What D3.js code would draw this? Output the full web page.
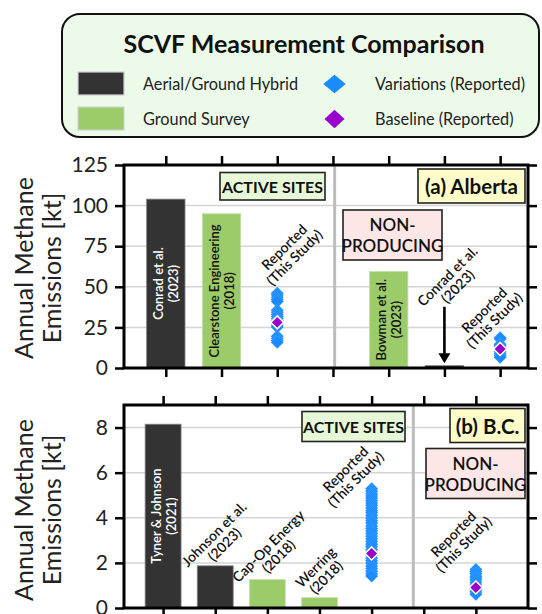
<!DOCTYPE html>
<html><head><meta charset="utf-8">
<script src="https://cdn.jsdelivr.net/npm/d3@7"></script>
<style>body{margin:0;background:#fff}svg{display:block;font-family:Lato,"Open Sans",sans-serif}</style>
</head><body><svg id="c" width="542" height="614"></svg>
<script>
// ---------------- data ----------------
const legendTitle = "SCVF Measurement Comparison";
const legendItems = ["Aerial/Ground Hybrid", "Ground Survey", "Variations (Reported)", "Baseline (Reported)"];
const positions = [1, 2, 3, 4, 5, 6, 7];
const yLabel = ["Annual Methane", "Emissions [kt]"];
const reportedLabel = ["Reported", "(This Study)"];

// (a) Alberta
const abYTicks = [0, 25, 50, 75, 100, 125];
const abBarPos = [1, 2, 5, 6];
const abBarValues = [104, 95, 59.5, 1.5];
const abBarTypes = ["hybrid", "ground", "ground", "hybrid"];
const abBarLabels = [["Conrad et al.", "(2023)"], ["Clearstone Engineering", "(2018)"], ["Bowman et al.", "(2023)"], ["Conrad et al.", "(2023)"]];
const abReportedPos = [3, 7];
const abVariationsActive = [46.1, 45.0, 43.6, 42.2, 40.9, 35.6, 34.4, 33.0, 31.7, 30.3, 29.1, 27.8, 26.4, 25.2, 19.5, 18.2, 17.0, 15.8];
const abVariationsNonProd = [18.7, 17.9, 14.6, 13.6, 12.6, 11.2, 10.0, 8.9, 7.7, 6.6];
const abBaseline = [28.1, 11.7];

// (b) B.C.
const bcYTicks = [0, 2, 4, 6, 8];
const bcBarPos = [1, 2, 3, 4];
const bcBarValues = [8.15, 1.87, 1.26, 0.46];
const bcBarTypes = ["hybrid", "hybrid", "ground", "ground"];
const bcBarLabels = [["Tyner & Johnson", "(2021)"], ["Johnson et al.", "(2023)"], ["Cap-Op Energy", "(2018)"], ["Werring", "(2018)"]];
const bcReportedPos = [5, 7];
const bcVariationsActive = [5.29, 5.18, 5.06, 4.97, 4.88, 4.76, 4.65, 4.55, 4.43, 4.31, 4.22, 4.10, 3.98, 3.87, 3.77, 3.64, 3.52, 3.41, 3.30, 3.18, 3.06, 2.95, 2.83, 2.71, 2.58, 2.47, 2.35, 2.22, 2.10, 1.98, 1.86, 1.75, 1.63, 1.52, 1.42];
const bcVariationsNonProd = [1.71, 1.62, 1.52, 1.41, 1.33, 1.24, 1.12, 1.01, 0.90, 0.80, 0.71, 0.61];
const bcBaseline = [2.42, 0.91];

// ---------------- styles / layout ----------------
const COL = {hybrid: "#333333", ground: "#9ccc69", blue: "#1a8cff", purple: "#9900cc"};

const panels = [
  {
    top: 165, bottom: 368, left: 124, right: 528,
    xDomain: [0.25, 7.5], yDomain: [0, 125], yTicks: abYTicks, divider: 4.03,
    barPos: abBarPos, barValues: abBarValues, barTypes: abBarTypes, barLabels: abBarLabels,
    barLabelMode: ["in", "in", "in", [6.14, 53.6]],
    repPos: abReportedPos, vars: [abVariationsActive, abVariationsNonProd], base: abBaseline,
    repLabelAnchor: [[3.21, 71.4], [6.80, 32.6]],
    arrow: {pos: 6, from: 37.7, to: 3.0},
    boxes: [
      {x: 220, y: 172.5, w: 105, h: 27.5, fill: "#e6f8d8", lines: ["ACTIVE SITES"], size: 16, weight: 700},
      {x: 418, y: 169, w: 107, h: 34, fill: "#fefcc8", lines: ["(a) Alberta"], size: 20.5, weight: 700},
      {x: 343, y: 210, w: 99, h: 50, fill: "#fde6e6", lines: ["NON-", "PRODUCING"], size: 17, weight: 600}
    ],
    titleCy: 268
  },
  {
    top: 405, bottom: 608, left: 124, right: 528,
    xDomain: [0.25, 8], yDomain: [0, 9], yTicks: bcYTicks, divider: 5.8,
    barPos: bcBarPos, barValues: bcBarValues, barTypes: bcBarTypes, barLabels: bcBarLabels,
    barLabelMode: ["in", [2.07, 3.06], [3.11, 2.53], [4.02, 1.60]],
    repPos: bcReportedPos, vars: [bcVariationsActive, bcVariationsNonProd], base: bcBaseline,
    repLabelAnchor: [[4.59, 5.94], [6.66, 3.06]],
    arrow: null,
    boxes: [
      {x: 302, y: 411.5, w: 103, h: 30, fill: "#e6f8d8", lines: ["ACTIVE SITES"], size: 16, weight: 700},
      {x: 450, y: 408.5, w: 75, h: 34, fill: "#fefcc8", lines: ["(b) B.C."], size: 20.5, weight: 700},
      {x: 426, y: 448.5, w: 99, h: 50, fill: "#fde6e6", lines: ["NON-", "PRODUCING"], size: 17, weight: 600}
    ],
    titleCy: 510
  }
];

const svg = d3.select("#c");
const diamond = (hw, hh) => `M0,${-hh}L${hw},0L0,${hh}L${-hw},0Z`;

// ---------------- legend ----------------
const lg = svg.append("g");
lg.append("rect").attr("x", 62).attr("y", 14).attr("width", 477).attr("height", 123)
  .attr("rx", 18).attr("fill", "#ecfbe9").attr("stroke", "#111").attr("stroke-width", 2);
lg.append("text").attr("x", 304).attr("y", 53).attr("text-anchor", "middle")
  .attr("font-size", 25).attr("font-weight", 700).attr("fill", "#111").text(legendTitle);
[["hybrid", 72], ["ground", 107]].forEach(([t, y]) => {
  lg.append("rect").attr("x", 78).attr("y", y).attr("width", 46).attr("height", 23)
    .attr("fill", COL[t]).attr("stroke", "#d0d0d0").attr("stroke-width", 1.2);
});
lg.append("text").attr("x", 143).attr("y", 89.5).attr("font-size", 16.3).attr("fill", "#222").text(legendItems[0]);
lg.append("text").attr("x", 143).attr("y", 124.5).attr("font-size", 16.3).attr("fill", "#222").text(legendItems[1]);
lg.append("path").attr("transform", "translate(334.5,84)").attr("d", diamond(11.2, 9.3)).attr("fill", COL.blue);
lg.append("path").attr("transform", "translate(334.5,119)").attr("d", diamond(10, 9.3)).attr("fill", COL.purple);
lg.append("text").attr("x", 375).attr("y", 89.5).attr("font-size", 16.3).attr("fill", "#222").text(legendItems[2]);
lg.append("text").attr("x", 375).attr("y", 124.5).attr("font-size", 16.3).attr("fill", "#222").text(legendItems[3]);

// ---------------- panels ----------------
panels.forEach(P => {
  const g = svg.append("g");
  const x = d3.scaleLinear().domain(P.xDomain).range([P.left, P.right]);
  const y = d3.scaleLinear().domain(P.yDomain).range([P.bottom, P.top]);
  const step = x(2) - x(1);
  const bw = step * 0.69;

  // gridlines
  g.append("g").selectAll("line").data(P.yTicks.filter(v => v > 0 && v < P.yDomain[1])).join("line")
    .attr("x1", P.left).attr("x2", P.right).attr("y1", d => y(d)).attr("y2", d => y(d))
    .attr("stroke", "#d4d4d4").attr("stroke-width", 1.5);

  // divider
  g.append("line").attr("x1", x(P.divider)).attr("x2", x(P.divider)).attr("y1", P.top).attr("y2", P.bottom)
    .attr("stroke", "#bdbdbd").attr("stroke-width", 3);

  // bars
  g.append("g").selectAll("rect").data(P.barValues).join("rect")
    .attr("x", (d, i) => x(P.barPos[i]) - bw / 2).attr("width", bw)
    .attr("y", d => y(d)).attr("height", d => y(0) - y(d))
    .attr("fill", (d, i) => COL[P.barTypes[i]])
    .attr("stroke", (d, i) => P.barTypes[i] === "hybrid" ? "#8a8a8a" : "#c8e0b0").attr("stroke-width", 0.8);

  // bar labels
  P.barLabels.forEach((lines, i) => {
    const mode = P.barLabelMode[i];
    let tr, fill, fs, lh;
    if (mode === "in") {
      const cy = (y(P.barValues[i]) + y(0)) / 2;
      tr = `translate(${x(P.barPos[i])},${cy}) rotate(-90)`;
      fill = P.barTypes[i] === "hybrid" ? "#ffffff" : "#111";
      fs = 13; lh = 15;
    } else {
      tr = `translate(${x(mode[0])},${y(mode[1])}) rotate(-45)`;
      fill = "#111"; fs = 14; lh = 14.5;
    }
    const t = g.append("text").attr("transform", tr).attr("text-anchor", "middle")
      .attr("font-size", fs).attr("font-weight", 600).attr("fill", fill);
    lines.forEach((l, k) => t.append("tspan").attr("x", 0).attr("y", (k - (lines.length - 1) / 2) * lh)
      .attr("dominant-baseline", "central").text(l));
  });

  // variations & baselines
  P.vars.forEach((vals, j) => {
    g.append("g").selectAll("path").data(vals).join("path")
      .attr("transform", d => `translate(${x(P.repPos[j])},${y(d)})`)
      .attr("d", diamond(6.5, 6.5)).attr("fill", COL.blue)
      .attr("stroke", "#ffffff").attr("stroke-width", 0.4).attr("stroke-opacity", 0.3);
  });
  g.append("g").selectAll("path").data(P.base).join("path")
    .attr("transform", (d, j) => `translate(${x(P.repPos[j])},${y(d)})`)
    .attr("d", diamond(6.5, 6.5)).attr("fill", COL.purple)
    .attr("stroke", "#ffffff").attr("stroke-width", 1.5);

  // reported labels
  P.repLabelAnchor.forEach(a => {
    const t = g.append("text").attr("transform", `translate(${x(a[0])},${y(a[1])}) rotate(-45)`)
      .attr("text-anchor", "middle").attr("font-size", 14).attr("font-weight", 600).attr("fill", "#111");
    reportedLabel.forEach((l, k) => t.append("tspan").attr("x", 0).attr("y", (k - 0.5) * 14.5)
      .attr("dominant-baseline", "central").text(l));
  });

  // arrow
  if (P.arrow) {
    const ax = x(P.arrow.pos), y1 = y(P.arrow.from), y2 = y(P.arrow.to);
    g.append("line").attr("x1", ax).attr("x2", ax).attr("y1", y1).attr("y2", y2 - 9)
      .attr("stroke", "#000").attr("stroke-width", 2.6);
    g.append("path").attr("d", `M${ax - 6},${y2 - 10}L${ax + 6},${y2 - 10}L${ax},${y2}Z`).attr("fill", "#000");
  }

  // boxes
  P.boxes.forEach(b => {
    g.append("rect").attr("x", b.x).attr("y", b.y).attr("width", b.w).attr("height", b.h)
      .attr("fill", b.fill).attr("stroke", "#222").attr("stroke-width", 1.6);
    const n = b.lines.length;
    b.lines.forEach((l, k) => {
      g.append("text").attr("x", b.x + b.w / 2).attr("y", b.y + b.h / 2 + (k - (n - 1) / 2) * 21)
        .attr("dominant-baseline", "central").attr("text-anchor", "middle")
        .attr("font-size", b.size).attr("font-weight", b.weight).attr("fill", "#111").text(l);
    });
  });

  // axes
  const axL = d3.axisLeft(y).tickValues(P.yTicks).tickSize(9).tickPadding(7).tickFormat(d3.format("d"));
  const axR = d3.axisRight(y).tickValues(P.yTicks).tickSize(9).tickFormat("");
  const axT = d3.axisTop(x).tickValues(positions).tickSize(9).tickFormat("");
  const axB = d3.axisBottom(x).tickValues(positions).tickSize(9).tickFormat("");
  const style = sel => {
    sel.select(".domain").remove();
    sel.selectAll(".tick line").attr("stroke", "#000").attr("stroke-width", 2.5);
    sel.selectAll(".tick text").attr("font-size", 21).attr("fill", "#222").attr("font-family", "Lato, sans-serif");
  };
  g.append("g").attr("transform", `translate(${P.left},0)`).call(axL).call(style);
  g.append("g").attr("transform", `translate(${P.right},0)`).call(axR).call(style);
  g.append("g").attr("transform", `translate(0,${P.top})`).call(axT).call(style);
  g.append("g").attr("transform", `translate(0,${P.bottom})`).call(axB).call(style);
  g.append("rect").attr("x", P.left).attr("y", P.top).attr("width", P.right - P.left).attr("height", P.bottom - P.top)
    .attr("fill", "none").attr("stroke", "#000").attr("stroke-width", 3);

  // y title
  const yt = g.append("text").attr("transform", `translate(0,${P.titleCy}) rotate(-90)`)
    .attr("text-anchor", "middle").attr("font-size", 25).attr("fill", "#222");
  yLabel.forEach((l, k) => yt.append("tspan").attr("x", 0).attr("y", 33 + k * 28).text(l));
});
</script></body></html>
